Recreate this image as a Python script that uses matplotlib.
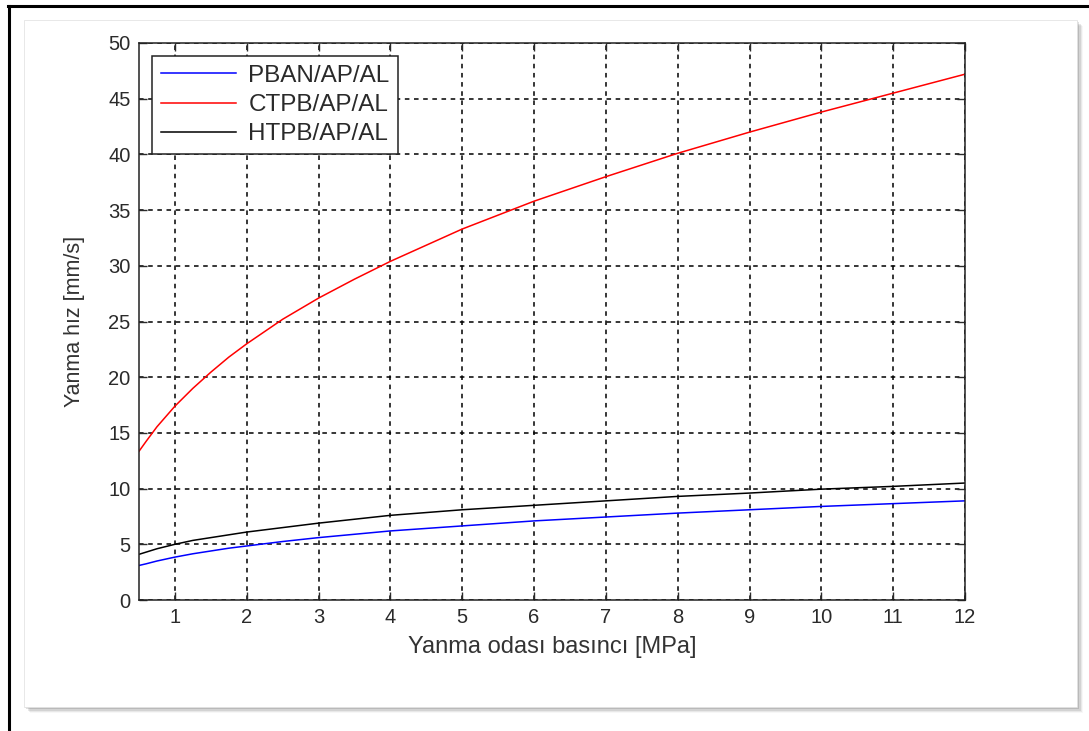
import matplotlib
matplotlib.use("Agg")
import matplotlib.pyplot as plt
from matplotlib.patches import Rectangle
from matplotlib.lines import Line2D

plt.rcParams['font.family'] = ['Liberation Sans', 'DejaVu Sans']

# chamber pressure [MPa]
pressure = [0.5, 0.6, 0.75, 1, 1.25, 1.5, 1.75, 2, 2.5, 3, 3.5, 4, 5, 6, 7, 8, 9, 10, 11, 12]

# burning rate [mm/s]
pban = [3.1, 3.25, 3.5, 3.85, 4.15, 4.4, 4.65, 4.85, 5.25, 5.6, 5.9, 6.2, 6.65, 7.1, 7.45, 7.8, 8.1, 8.4, 8.65, 8.9]
ctpb = [13.35, 14.25, 15.55, 17.4, 19.0, 20.45, 21.8, 23.0, 25.2, 27.1, 28.8, 30.4, 33.3, 35.8, 38.0, 40.1, 42.0, 43.8, 45.5, 47.2]
htpb = [4.1, 4.3, 4.6, 5.0, 5.35, 5.6, 5.85, 6.1, 6.5, 6.9, 7.25, 7.6, 8.1, 8.5, 8.9, 9.3, 9.6, 9.95, 10.2, 10.5]

labels = ['PBAN/AP/AL', 'CTPB/AP/AL', 'HTPB/AP/AL']
colors = ['#0000ff', '#ff0000', '#000000']

fig = plt.figure(figsize=(10.89, 7.31), dpi=100)
fig.patch.set_facecolor('white')

# white panel with a soft shadow
px0, py0, pw, ph = 24 / 1089, 1 - 707 / 731, (1077 - 24) / 1089, (707 - 20) / 731
for i, a in enumerate([0.16, 0.12, 0.09, 0.06, 0.03]):
    off = (i + 1) * 1.2
    fig.add_artist(Rectangle((px0 + off / 1089, py0 - off / 731), pw, ph,
                             transform=fig.transFigure, facecolor='black',
                             edgecolor='none', alpha=a, zorder=-3))
fig.add_artist(Rectangle((px0, py0), pw, ph, transform=fig.transFigure,
                         facecolor='white', edgecolor='#e4e4e4', lw=0.6, zorder=-2))

# outer black frame lines
fig.add_artist(Line2D([8 / 1089, 1.0], [1 - 6 / 731, 1 - 6 / 731],
                      transform=fig.transFigure, color='black', lw=2.2, zorder=-1))
fig.add_artist(Line2D([9 / 1089, 9 / 1089], [1 - 6 / 731, 0.0],
                      transform=fig.transFigure, color='black', lw=2.2, zorder=-1))

ax = fig.add_axes([139 / 1089, 1 - 600 / 731, (965 - 139) / 1089, (600 - 43) / 731])
ax.set_facecolor('white')

for y, lab, c in zip([pban, ctpb, htpb], labels, colors):
    ax.plot(pressure, y, color=c, lw=1.1, label=lab)

ax.set_xlim(0.5, 12)
ax.set_ylim(0, 50)
ax.set_xticks(range(1, 13))
ax.set_yticks(range(0, 51, 5))
ax.tick_params(direction='in', top=True, right=True, length=6, width=1,
               labelsize=14.5, colors='#2a2a2a', pad=6)
for s in ax.spines.values():
    s.set_color('#222222')
    s.set_linewidth(1.1)
ax.grid(True, color='black', linestyle=(0, (3, 3)), linewidth=1.1)

ax.set_xlabel('Yanma odası basıncı [MPa]', fontsize=17, color='#333333', labelpad=6)
ax.set_ylabel('Yanma hız [mm/s]', fontsize=15.5, color='#333333', labelpad=17)

leg = ax.legend(loc='upper left', fontsize=17.5, frameon=True, fancybox=False,
                framealpha=1, edgecolor='#222222', handlelength=3.1,
                handletextpad=0.5, borderaxespad=0.55, labelspacing=0.3,
                borderpad=0.35)
leg.get_frame().set_linewidth(1.1)
for t in leg.get_texts():
    t.set_color('#2a2a2a')

fig.savefig('out.png', dpi=100, facecolor='white')
